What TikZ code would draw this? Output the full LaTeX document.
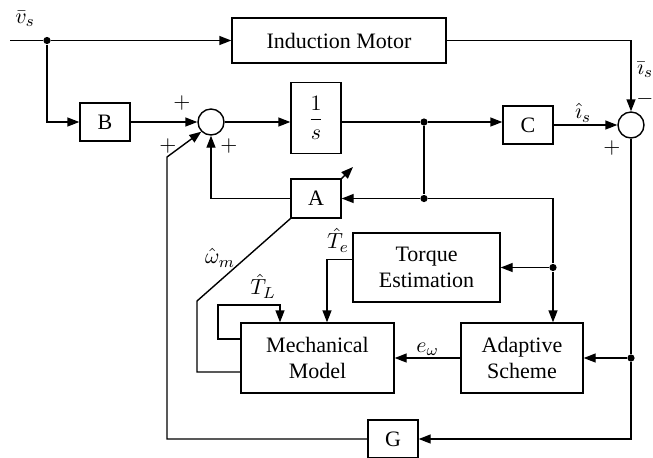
\documentclass[tikz,border=0pt]{standalone}
\usepackage{amsmath}
\usepackage{fontspec}
\setmainfont{Liberation Serif}
\usetikzlibrary{positioning,%
  calc,%
  arrows.meta}

\begin{document}
\begin{tikzpicture}
                    [x=0.5pt, y=-0.5pt,
                    blk/.style={rectangle,
                        draw, fill=white, align=center, inner sep=0pt,
                        font=\rmfamily\fontsize{11}{13}\selectfont},
                    sum/.style={circle,
                        draw, fill=white, minimum size=13pt, inner sep=0pt},
                    dot/.style={circle,
                        fill, inner sep=0pt, minimum size=3.6pt},
                    lbl/.style={inner sep=1pt,
                        font=\rmfamily\fontsize{11}{13}\selectfont},
                    >={Triangle[length=6pt,width=4.5pt]},
                    line width=0.7pt]

                    \useasboundingbox (0,0) rectangle (653,457);

                    % blocks
                    \node[blk, minimum width=107pt, minimum height=22.5pt]
                        (im) at (339,40.5) {Induction Motor};
                    \node[blk, minimum width=25pt, minimum height=19pt]
                        (b) at (105,122) {B};
                    \node[sum] (sl) at (211,122) {};
                    \node[blk, minimum width=25pt, minimum height=35.5pt]
                        (fs) at (316,118) {$\displaystyle\frac{1}{s}$};
                    \node[blk, minimum width=25pt, minimum height=19pt]
                        (c) at (528,125) {C};
                    \node[sum] (sr) at (631,125) {};
                    \node[blk, minimum width=25pt, minimum height=19.5pt]
                        (a) at (316,198.5) {A};
                    \node[blk, minimum width=73.5pt, minimum height=34.5pt]
                        (te) at (426.5,267.5) {Torque\\Estimation};
                    \node[blk, minimum width=61pt, minimum height=35pt]
                        (as) at (522,358) {Adaptive\\Scheme};
                    \node[blk, minimum width=76.5pt, minimum height=35pt]
                        (mm) at (317.5,358) {Mechanical\\Model};
                    \node[blk, minimum width=25pt, minimum height=19pt]
                        (g) at (393,439) {G};

                    % branch points
                    \coordinate (vin) at (10,40.5);
                    \node[dot] (dv) at (47,40.5) {};
                    \node[dot] (da) at (424,122) {};
                    \node[dot] (db) at (424,198.5) {};
                    \coordinate (dc) at (553,198.5);
                    \node[dot] (dd) at (553,267.5) {};
                    \node[dot] (de) at (631,358) {};
                    \coordinate (gu) at (167,157);
                    \coordinate (wm) at (197,301);
                    \coordinate (tl) at (218,305);
                    \coordinate (atip) at (353,167);

                    % forward path
                    \draw (vin) -- (dv);
                    \draw[->] (dv) -- (im.west);
                    \draw[->] (dv) |- (b.west);
                    \draw[->] (b.east) -- (sl.west);
                    \draw[->] (sl.east) -- (sl.east -| fs.west);
                    \draw (sl -| fs.east) -- (da);
                    \draw[->] (da) -- (da -| c.west);
                    \draw[->] (c.east) -- (sr.west);
                    \draw[->] (im.east) -| (sr.north);

                    % feedback
                    \draw (da) -- (db);
                    \draw[->] (db) -- (a.east);
                    \draw (db) -- (dc) -- (dd);
                    \draw[->] (dd) -- (te.east);
                    \draw[->] (dd) -- (dd |- as.north);
                    \draw (sr.south) -- (de);
                    \draw[->] (de) -- (as.east);
                    \draw[->] (de) |- (g.east);
                    \draw[->] (g.west) -| (gu) -- (sl.south west);
                    \draw[->] (a.west) -| (sl.south);
                    \draw[->] (as.west) --
                        node[above, lbl] {$e_\omega$}
                            (mm.east);
                    \draw[->] ([yshift=4pt]te.west) -| ([xshift=4.75pt]mm.north);
                    \draw[->] ([yshift=9.5pt]mm.west) -| (tl)
                        -| ([xshift=-18.75pt]mm.north);
                    \draw ([yshift=-7pt]mm.west) -| (wm) -- (a.south west);
                    \draw[->] (a.north east) -- (atip);

                    % labels
                    \node[lbl] (lvs) at (25,19) {$\bar{v}_s$};
                    \node[lbl] (lis) at (645,70) {$\bar{\imath}_s$};
                    \node[lbl] (lmi) at (645,99) {$-$};
                    \node[lbl] (lpr) at (612,148) {$+$};
                    \node[lbl] (lih) at (583,113) {$\hat{\imath}_s$};
                    \node[lbl] (lpb) at (182,103) {$+$};
                    \node[lbl] (lpg) at (168,146) {$+$};
                    \node[lbl] (lpa) at (229,146) {$+$};
                    \node[lbl] (lte) at (338,240) {$\hat{T}_e$};
                    \node[lbl] (ltl) at (263,286) {$\hat{T}_L$};
                    \node[lbl] (lwm) at (220,258) {$\hat{\omega}_m$};
                \end{tikzpicture}
\end{document}
